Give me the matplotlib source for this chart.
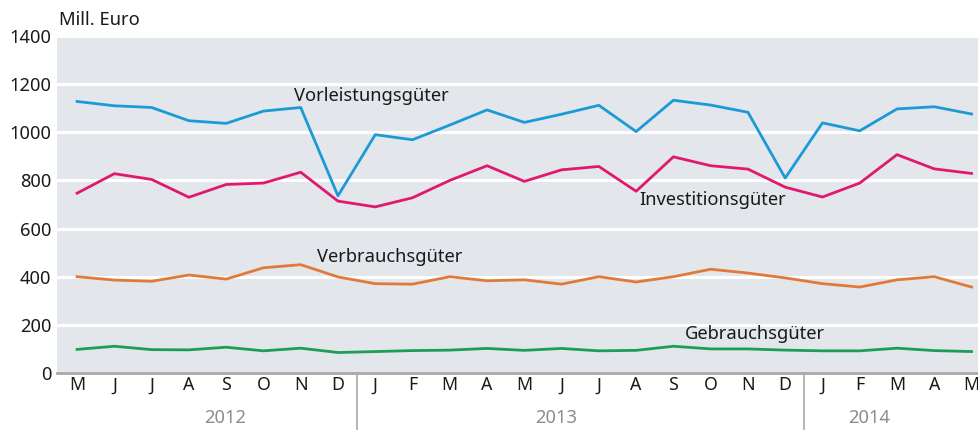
import numpy as np
import matplotlib.pyplot as plt
from matplotlib.transforms import blended_transform_factory

plt.rcParams['font.family'] = ['Noto Sans', 'DejaVu Sans']

# --- Daten (Mill. Euro), Mai 2012 bis Mai 2014 ---
months = ["M", "J", "J", "A", "S", "O", "N", "D",
          "J", "F", "M", "A", "M", "J", "J", "A", "S", "O", "N", "D",
          "J", "F", "M", "A", "M"]
years = ["2012", "2013", "2014"]

vorleistung = [1128, 1110, 1103, 1048, 1037, 1088, 1103, 736,
               990, 969, 1030, 1093, 1041, 1075, 1112, 1003, 1133, 1113, 1083, 810,
               1039, 1006, 1097, 1106, 1076]
investition = [747, 828, 804, 730, 783, 789, 834, 714,
               690, 728, 800, 861, 796, 844, 858, 755, 898, 861, 847, 772,
               731, 789, 907, 848, 829]
verbrauch = [400, 386, 381, 407, 390, 437, 450, 399,
             371, 369, 400, 383, 387, 369, 400, 378, 400, 431, 415, 395,
             371, 357, 387, 400, 357]
gebrauch = [98, 111, 97, 96, 107, 92, 103, 85,
            89, 93, 95, 102, 94, 102, 92, 94, 111, 100, 100, 95,
            92, 92, 103, 93, 89]

x = np.arange(len(months))

fig = plt.figure(figsize=(9.79, 4.30), dpi=100)
ax = fig.add_axes([0.0582, 0.1326, 0.9418, 0.7837])
ax.set_facecolor('#e3e7eb')

for v in range(200, 1401, 200):
    ax.axhline(v, color='white', lw=2.2, zorder=1)

ax.plot(x, vorleistung, color='#1b9ad6', lw=2.0, zorder=3)
ax.plot(x, investition, color='#e0196f', lw=2.0, zorder=3)
ax.plot(x, verbrauch, color='#e07a3b', lw=2.0, zorder=3)
ax.plot(x, gebrauch, color='#1d9e54', lw=2.0, zorder=3)

ax.set_xlim(-0.54, 24.2)
ax.set_ylim(0, 1400)
ax.set_yticks(range(0, 1401, 200))
ax.set_yticklabels([str(v) for v in range(0, 1401, 200)], fontsize=13.2, color='#1a1a1a')
ax.set_xticks(x)
ax.set_xticklabels(months, fontsize=12.8, color='#1a1a1a')
ax.tick_params(axis='both', length=0)
ax.tick_params(axis='y', pad=4)
ax.tick_params(axis='x', pad=2.5)

for s in ['top', 'right', 'left']:
    ax.spines[s].set_visible(False)
ax.spines['bottom'].set_color('#a8a8a8')
ax.spines['bottom'].set_linewidth(2)
ax.spines['bottom'].set_zorder(4)

# Jahrestrenner und Jahreslabels
trans = blended_transform_factory(ax.transData, ax.transAxes)
for sep in [7.5, 19.5]:
    ax.plot([sep, sep], [0, -0.17], color='#a8a8a8', lw=1.2, transform=trans, clip_on=False)
for label, pos in zip(years, [3.97, 12.84, 21.25]):
    ax.text(pos, -0.135, label, transform=trans, ha='center', va='center',
            fontsize=13.2, color='#8c8c8c')

# Serienbeschriftungen
lab = dict(fontsize=13.2, color='#1a1a1a', va='center')
ax.text(5.83, 1152, "Vorleistungsgüter", **lab)
ax.text(15.08, 720, "Investitionsgüter", **lab)
ax.text(6.45, 482, "Verbrauchsgüter", **lab)
ax.text(16.3, 160, "Gebrauchsgüter", **lab)

fig.text(59 / 979, 1 - 20 / 430, "Mill. Euro", fontsize=13.2, color='#1a1a1a', va='center')

fig.savefig("out.png", dpi=100)
